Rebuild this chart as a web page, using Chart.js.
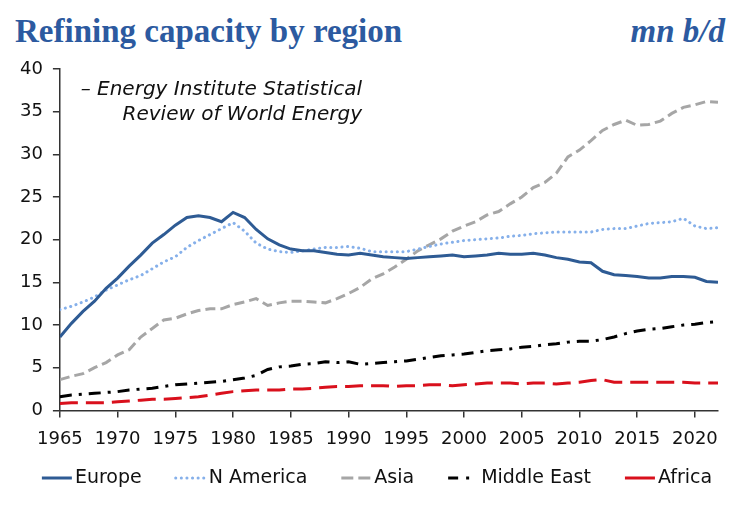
<!DOCTYPE html>
<html lang="en">
<head>
<meta charset="UTF-8">
<title>Refining capacity by region</title>
<style>
  body { margin: 0; background: #fff; }
  .wrap { position: relative; width: 741px; height: 507px; }
  .Titulo { position: absolute; left: 15px; top: 13px; margin: 0; font: bold 33px "Liberation Serif", serif; color: #2c5aa0; }
  .Unidade { position: absolute; right: 16px; top: 13px; margin: 0; font: italic bold 33px "Liberation Serif", serif; color: #2c5aa0; }
  canvas { position: absolute; left: 0; top: 0; }
</style>
</head>
<body>
<div class="wrap">
  <p class="Titulo">Refining capacity by region</p>
  <p class="Unidade">mn b/d</p>
  <canvas id="myChart" width="741" height="507"></canvas>
</div>

<script src="https://cdn.jsdelivr.net/npm/chart.js"></script>
<script>
// 1965 .. 2022
const years = [];
for (let y = 1965; y <= 2022; y++) years.push(y);

const europe = [8.6, 10.2, 11.6, 12.8, 14.3, 15.5, 16.9, 18.2, 19.6, 20.6,
  21.7, 22.6, 22.8, 22.6, 22.1, 23.2, 22.6, 21.2, 20.1, 19.4,
  18.9, 18.7, 18.7, 18.5, 18.3, 18.2, 18.4, 18.2, 18.0, 17.9,
  17.8, 17.9, 18.0, 18.1, 18.2, 18.0, 18.1, 18.2, 18.4, 18.3,
  18.3, 18.4, 18.2, 17.9, 17.7, 17.4, 17.3, 16.3, 15.9, 15.8,
  15.7, 15.5, 15.5, 15.7, 15.7, 15.6, 15.1, 15.0];
const nAmerica = [11.8, 12.2, 12.7, 13.3, 14.1, 14.7, 15.3, 15.8, 16.6, 17.4,
  18.0, 19.1, 19.9, 20.6, 21.3, 22.0, 21.0, 19.6, 18.9, 18.6,
  18.5, 18.7, 18.9, 19.1, 19.1, 19.2, 19.0, 18.6, 18.6, 18.6,
  18.6, 18.9, 19.2, 19.5, 19.7, 19.9, 20.0, 20.1, 20.2, 20.4,
  20.5, 20.7, 20.8, 20.9, 20.9, 20.9, 20.9, 21.2, 21.3, 21.3,
  21.6, 21.9, 22.0, 22.1, 22.5, 21.6, 21.3, 21.4];
const asia = [3.6, 4.0, 4.3, 5.0, 5.6, 6.5, 7.1, 8.6, 9.6, 10.6,
  10.8, 11.3, 11.7, 11.9, 11.9, 12.4, 12.7, 13.1, 12.3, 12.6,
  12.8, 12.8, 12.7, 12.6, 13.1, 13.7, 14.4, 15.4, 16.0, 16.8,
  17.7, 18.7, 19.4, 20.1, 21.0, 21.6, 22.1, 22.9, 23.3, 24.2,
  25.0, 26.1, 26.7, 27.8, 29.7, 30.5, 31.6, 32.8, 33.5, 34.0,
  33.4, 33.5, 33.9, 34.8, 35.5, 35.8, 36.2, 36.1];
const middleEast = [1.6, 1.8, 1.9, 2.0, 2.1, 2.2, 2.4, 2.5, 2.6, 2.8,
  3.0, 3.1, 3.2, 3.3, 3.4, 3.6, 3.8, 4.1, 4.8, 5.1,
  5.2, 5.4, 5.5, 5.7, 5.6, 5.7, 5.4, 5.5, 5.6, 5.7,
  5.8, 6.0, 6.2, 6.4, 6.5, 6.6, 6.8, 7.0, 7.1, 7.2,
  7.4, 7.5, 7.7, 7.8, 8.0, 8.1, 8.1, 8.3, 8.6, 9.0,
  9.3, 9.5, 9.6, 9.8, 10.0, 10.1, 10.3, 10.4];
const africa = [0.8, 0.9, 0.9, 0.9, 0.9, 1.0, 1.1, 1.2, 1.3, 1.3,
  1.4, 1.5, 1.6, 1.8, 2.0, 2.2, 2.3, 2.4, 2.4, 2.4,
  2.5, 2.5, 2.6, 2.7, 2.8, 2.8, 2.9, 2.9, 2.9, 2.8,
  2.9, 2.9, 3.0, 3.0, 2.9, 3.0, 3.1, 3.2, 3.2, 3.2,
  3.1, 3.2, 3.2, 3.1, 3.2, 3.3, 3.5, 3.6, 3.3, 3.3,
  3.3, 3.3, 3.3, 3.3, 3.3, 3.2, 3.2, 3.2];

const xTicks = [1965, 1970, 1975, 1980, 1985, 1990, 1995, 2000, 2005, 2010, 2015, 2020];
const sourceNote = ['\u2013 Energy Institute Statistical', 'Review of World Energy'];

const pts = arr => arr.map((v, i) => ({ x: years[i], y: v }));

// source note in the top left of the plot
const notePlugin = {
  id: 'note',
  afterDraw(chart) {
    const c = chart.ctx;
    c.save();
    c.font = 'italic 20px "DejaVu Sans"';
    c.fillStyle = '#111';
    c.textAlign = 'right';
    c.textBaseline = 'alphabetic';
    c.fillText(sourceNote[0], 362, 95);
    c.fillText(sourceNote[1], 362, 120);
    c.restore();
  }
};

// legend in one row, short samples of each series line
const legendPlugin = {
  id: 'rowLegend',
  afterDraw(chart) {
    const c = chart.ctx;
    const sample = 30, gapText = 3, gapItem = 34, y = 478;
    c.save();
    c.font = '19px "DejaVu Sans"';
    const items = chart.data.datasets.map(ds => ({ ds, w: sample + gapText + c.measureText(ds.label).width }));
    const total = items.reduce((s, it) => s + it.w, 0) + gapItem * (items.length - 1);
    let x = 377 - total / 2;
    items.forEach(({ ds, w }) => {
      c.beginPath();
      c.strokeStyle = ds.borderColor;
      c.lineWidth = ds.borderWidth;
      c.lineCap = ds.borderCapStyle || 'butt';
      c.setLineDash(ds.legendDash || []);
      c.moveTo(x, y);
      c.lineTo(x + sample, y);
      c.stroke();
      c.setLineDash([]);
      c.fillStyle = '#111';
      c.textBaseline = 'middle';
      c.textAlign = 'left';
      c.fillText(ds.label, x + sample + gapText, y);
      x += w + gapItem;
    });
    c.restore();
  }
};

const ctx = document.getElementById('myChart');

let chart = new Chart(ctx, {
  type: 'line',
  data: {
    datasets: [
      { label: 'Europe', data: pts(europe), borderColor: '#2e5b94', borderWidth: 3 },
      { label: 'N America', data: pts(nAmerica), borderColor: '#86b0ea', borderWidth: 3,
        borderDash: [0.1, 5.5], legendDash: [0.1, 5.5], borderCapStyle: 'round' },
      { label: 'Asia', data: pts(asia), borderColor: '#a6a6a6', borderWidth: 3,
        borderDash: [10, 5], legendDash: [12, 5] },
      { label: 'Middle East', data: pts(middleEast), borderColor: '#000', borderWidth: 3,
        borderDash: [12, 7, 3, 7], legendDash: [10, 8, 3, 20] },
      { label: 'Africa', data: pts(africa), borderColor: '#d9101c', borderWidth: 3,
        borderDash: [18, 8] }
    ]
  },
  options: {
    responsive: false,
    animation: false,
    elements: { point: { radius: 0 }, line: { tension: 0, fill: false } },
    layout: { padding: { top: 69, left: 10, right: 23, bottom: 46 } },
    scales: {
      x: {
        type: 'linear',
        min: 1965,
        max: 2022,
        afterBuildTicks: scale => { scale.ticks = xTicks.map(v => ({ value: v })); },
        ticks: { color: '#111', font: { family: 'DejaVu Sans', size: 18 }, padding: 11,
          maxRotation: 0, callback: v => String(v) },
        grid: { drawOnChartArea: false, drawTicks: true, tickLength: 7, color: '#333', lineWidth: 1.5 },
        border: { display: true, color: '#333', width: 1.5 }
      },
      y: {
        min: 0,
        max: 40,
        ticks: { stepSize: 5, color: '#111', font: { family: 'DejaVu Sans', size: 18 }, padding: 10 },
        grid: { drawOnChartArea: false, drawTicks: true, tickLength: 7, color: '#333', lineWidth: 1.5 },
        border: { display: true, color: '#333', width: 1.5 }
      }
    },
    plugins: {
      legend: { display: false },
      tooltip: { enabled: false }
    }
  },
  plugins: [notePlugin, legendPlugin]
});
</script>
</body>
</html>
